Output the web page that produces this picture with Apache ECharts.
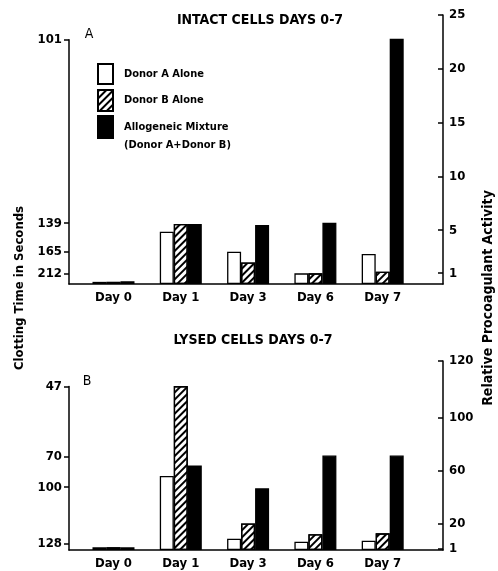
<!DOCTYPE html>
<html><head><meta charset="utf-8">
<script src="https://cdn.jsdelivr.net/npm/echarts@6/dist/echarts.min.js"></script>
<style>html,body{margin:0;padding:0;background:#fff}#c{width:498px;height:571px}</style>
</head><body><div id="c"></div>
<script>
// ---- data ----
const categories = ['Day 0', 'Day 1', 'Day 3', 'Day 6', 'Day 7'];
const nameA = 'Donor A Alone';
const nameB = 'Donor B Alone';
const nameMix = 'Allogeneic Mixture\n(Donor A+Donor B)';
// Panel A: intact cells, relative procoagulant activity
const intactDonorA  = [0.2, 4.86, 3.0, 0.99, 2.79];
const intactDonorB  = [0.2, 5.58, 2.0, 0.99, 1.14];
const intactMixture = [0.25, 5.58, 5.48, 5.7, 22.8];
// Panel B: lysed cells, relative procoagulant activity
const lysedDonorA  = [2, 56, 8.6, 6.3, 7];
const lysedDonorB  = [2, 124, 20, 12, 12.6];
const lysedMixture = [2, 64, 46.7, 71.5, 71.5];
// axis ticks (positions on the activity scale) and their labels
const intactRightTickPos    = [1, 5, 10, 15, 20, 25];
const intactRightTickLabels = ['1', '5', '10', '15', '20', '25'];
const intactLeftTickPos     = [0.93, 3.0, 5.65, 22.7];
const intactLeftTickLabels  = ['212', '165', '139', '101'];
const lysedRightTickPos     = [1, 20, 60, 100, 143];
const lysedRightTickLabels  = ['1', '20', '60', '100', '120'];
const lysedLeftTickPos      = [5.1, 47.5, 70.7, 123.7];
const lysedLeftTickLabels   = ['128', '100', '70', '47'];

// ---- layout ----
const FONT = "'Liberation Sans Narrow', 'DejaVu Sans Condensed', sans-serif";
const W = 498;
const plotL = 69, plotR = 443;
const xMin = -0.661, xMax = 4.896;
const panels = [
  { top: 15, base: 284, rMax: 25, lMax: 22.7, rPos: intactRightTickPos, rLab: intactRightTickLabels,
    lPos: intactLeftTickPos, lLab: intactLeftTickLabels, data: [intactDonorA, intactDonorB, intactMixture] },
  { top: 361, base: 550, rMax: 143, lMax: 123.7, rPos: lysedRightTickPos, rLab: lysedRightTickLabels,
    lPos: lysedLeftTickPos, lLab: lysedLeftTickLabels, data: [lysedDonorA, lysedDonorB, lysedMixture] }
];

const lineStyle = { color: '#000', width: 1.5 };
const labelStyle = { color: '#000', fontFamily: FONT, fontWeight: 'bold', fontSize: 13 };
const grid = [], xAxis = [], yAxis = [], series = [];
const seriesNames = [nameA, nameB, nameMix];
const styles = [
  { color: '#fff', borderColor: '#000', borderWidth: 1.3 },
  { color: '#fff', borderColor: '#000', borderWidth: 1.3,
    decal: { symbol: 'rect', color: '#000', dashArrayX: [1, 0], dashArrayY: [1.6, 2.8], rotation: -Math.PI / 4, symbolSize: 1 } },
  { color: '#000', borderColor: '#000', borderWidth: 1.3 }
];

panels.forEach((p, k) => {
  const h = p.base - p.top;
  const lTop = p.base - h * p.lMax / p.rMax;
  const gR = grid.length;
  grid.push({ left: plotL, right: W - plotR, top: p.top, height: h });
  const gL = grid.length;
  grid.push({ left: plotL, right: W - plotR, top: lTop, height: p.base - lTop });
  const xR = xAxis.length;
  xAxis.push({ type: 'value', gridIndex: gR, min: xMin, max: xMax,
    axisLine: { show: true, onZero: false, lineStyle }, axisTick: { show: false }, splitLine: { show: false },
    axisLabel: Object.assign({ customValues: categories.map((c, i) => i), formatter: v => categories[v], margin: 7 }, labelStyle) });
  xAxis.push({ type: 'value', gridIndex: gL, min: xMin, max: xMax, show: false });
  const yR = yAxis.length;
  yAxis.push({ type: 'value', gridIndex: gR, position: 'right', min: 0, max: p.rMax,
    axisLine: { show: true, onZero: false, lineStyle }, splitLine: { show: false },
    axisTick: { show: true, inside: true, length: 5, customValues: p.rPos, lineStyle },
    axisLabel: Object.assign({ customValues: p.rPos, formatter: v => p.rLab[p.rPos.indexOf(v)], margin: 6 }, labelStyle) });
  yAxis.push({ type: 'value', gridIndex: gL, position: 'left', min: 0, max: p.lMax,
    axisLine: { show: true, onZero: false, lineStyle }, splitLine: { show: false },
    axisTick: { show: true, inside: false, length: 5, customValues: p.lPos, lineStyle },
    axisLabel: Object.assign({ customValues: p.lPos, formatter: v => p.lLab[p.lPos.indexOf(v)], margin: 7 }, labelStyle) });
  p.data.forEach((vals, s) => {
    series.push({ type: 'bar', name: seriesNames[s], xAxisIndex: xR, yAxisIndex: yR,
      barWidth: 14, barGap: '0%', itemStyle: styles[s], silent: true, animation: false,
      data: vals.map((v, i) => [i, v]) });
  });
});

const legendBase = { orient: 'vertical', left: 97, padding: 0, itemWidth: 15, itemHeight: 20, icon: 'rect',
  selectedMode: false, textStyle: { color: '#000', fontFamily: FONT, fontWeight: 'bold', fontSize: 11, padding: [0, 0, 0, 6] } };
const legend = [
  Object.assign({}, legendBase, { top: 63, data: [nameA] }),
  Object.assign({}, legendBase, { top: 89, itemHeight: 21, data: [nameB] }),
  Object.assign({}, legendBase, { top: 100, itemHeight: 22, formatter: n => '\n' + n,
    data: [{ name: nameMix, textStyle: { lineHeight: 18 } }] })
];

const txt = (text, x, y, size, opts) => Object.assign({ type: 'text', x, y, silent: true,
  style: { text, fill: '#000', fontFamily: FONT, fontWeight: 'bold', fontSize: size, align: 'center', verticalAlign: 'middle' } }, opts || {});
const graphic = [
  txt('INTACT CELLS DAYS 0-7', 260, 20, 14),
  txt('LYSED CELLS DAYS 0-7', 253, 340, 14),
  txt('A', 89, 34, 14),
  txt('B', 87, 381, 14),
  Object.assign(txt('Clotting Time in Seconds', 20, 288, 13), { rotation: Math.PI / 2 }),
  Object.assign(txt('Relative Procoagulant Activity', 488, 298, 14), { rotation: Math.PI / 2 })
];
graphic[2].style.fontWeight = 'normal';
graphic[3].style.fontWeight = 'normal';

const chart = echarts.init(document.getElementById('c'), null, { renderer: 'canvas' });
chart.setOption({ backgroundColor: '#fff', animation: false, grid, xAxis, yAxis, series, legend, graphic });
</script></body></html>
